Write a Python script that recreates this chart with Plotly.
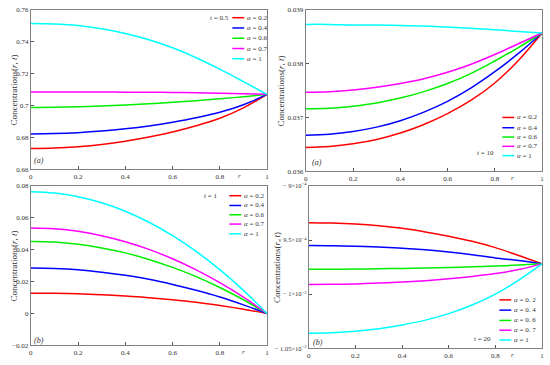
import plotly.graph_objects as go

# ---------------- data ----------------
r = [0.0, 0.1, 0.2, 0.3, 0.4, 0.5, 0.6, 0.7, 0.8, 0.9, 1.0]
alpha_labels = ["α = 0.2", "α = 0.4", "α = 0.6", "α = 0.7", "α = 1"]
alpha_labels_d = ["α = 0. 2", "α = 0. 4", "α = 0. 6", "α = 0. 7", "α = 1"]
time_labels = ["0.5", "10", "1", "20"]
panel_tags = ["(a)", "(a)", "(b)", "(b)"]

# t = 0.5
c05_a02 = [0.6730, 0.6733, 0.6742, 0.6756, 0.6776, 0.6802, 0.6834, 0.6873, 0.6920, 0.6985, 0.7070]
c05_a04 = [0.6822, 0.6824, 0.6830, 0.6840, 0.6854, 0.6872, 0.6895, 0.6923, 0.6958, 0.7005, 0.7070]
c05_a06 = [0.6988, 0.6989, 0.6992, 0.6997, 0.7003, 0.7011, 0.7020, 0.7030, 0.7042, 0.7055, 0.7070]
c05_a07 = [0.7085, 0.7085, 0.7085, 0.7085, 0.7084, 0.7083, 0.7082, 0.7080, 0.7077, 0.7074, 0.7070]
c05_a10 = [0.7515, 0.7512, 0.7502, 0.7482, 0.7452, 0.7412, 0.7362, 0.7300, 0.7228, 0.7150, 0.7070]

# t = 10
c10_a02 = [0.03644, 0.03646, 0.03651, 0.03659, 0.03671, 0.03687, 0.03707, 0.03732, 0.03764, 0.03806, 0.03857]
c10_a04 = [0.03667, 0.03669, 0.03674, 0.03682, 0.03694, 0.03710, 0.03730, 0.03755, 0.03785, 0.03819, 0.03857]
c10_a06 = [0.03716, 0.03717, 0.03721, 0.03727, 0.03736, 0.03748, 0.03763, 0.03782, 0.03805, 0.03830, 0.03857]
c10_a07 = [0.03747, 0.03748, 0.03751, 0.03756, 0.03763, 0.03772, 0.03784, 0.03799, 0.03817, 0.03837, 0.03857]
c10_a10 = [0.03873, 0.03873, 0.03872, 0.03872, 0.03871, 0.03870, 0.03868, 0.03866, 0.03863, 0.03860, 0.03857]

# t = 1
c1_a02 = [0.0127, 0.0126, 0.0123, 0.0117, 0.0109, 0.0099, 0.0086, 0.0070, 0.0050, 0.0027, 0.0]
c1_a04 = [0.0285, 0.0282, 0.0274, 0.0259, 0.0239, 0.0214, 0.0182, 0.0145, 0.0103, 0.0054, 0.0]
c1_a06 = [0.0452, 0.0448, 0.0434, 0.0411, 0.0380, 0.0339, 0.0289, 0.0231, 0.0163, 0.0086, 0.0]
c1_a07 = [0.0536, 0.0531, 0.0515, 0.0488, 0.0450, 0.0402, 0.0343, 0.0273, 0.0193, 0.0102, 0.0]
c1_a10 = [0.0763, 0.0755, 0.0732, 0.0694, 0.0641, 0.0572, 0.0488, 0.0389, 0.0275, 0.0145, 0.0]

# t = 20
c20_a02 = [-9.340e-4, -9.343e-4, -9.352e-4, -9.368e-4, -9.392e-4, -9.425e-4, -9.465e-4, -9.512e-4, -9.570e-4, -9.643e-4, -9.720e-4]
c20_a04 = [-9.550e-4, -9.552e-4, -9.557e-4, -9.565e-4, -9.575e-4, -9.590e-4, -9.610e-4, -9.635e-4, -9.665e-4, -9.690e-4, -9.720e-4]
c20_a06 = [-9.770e-4, -9.770e-4, -9.768e-4, -9.765e-4, -9.762e-4, -9.758e-4, -9.753e-4, -9.747e-4, -9.740e-4, -9.731e-4, -9.720e-4]
c20_a07 = [-9.910e-4, -9.909e-4, -9.905e-4, -9.898e-4, -9.888e-4, -9.875e-4, -9.858e-4, -9.836e-4, -9.809e-4, -9.772e-4, -9.720e-4]
c20_a10 = [-10.360e-4, -10.356e-4, -10.343e-4, -10.320e-4, -10.285e-4, -10.240e-4, -10.180e-4, -10.100e-4, -10.000e-4, -9.870e-4, -9.720e-4]

x_tickvals = [0, 0.2, 0.4, 0.6, 0.8, 1]
x_ticktext = ["0", "0.2", "0.4", "0.6", "0.8", "1"]
y1_ticks = [0.66, 0.68, 0.70, 0.72, 0.74, 0.76]
y2_ticks = [0.036, 0.037, 0.038, 0.039]
y3_ticks = [-0.02, 0.0, 0.02, 0.04, 0.06, 0.08]
y4_ticks = [-1.05e-3, -1.0e-3, -9.5e-4, -9.0e-4]
y4_ticktext = ["− 1.05×10<sup>−3</sup>", "− 1×10<sup>−3</sup>", "− 9.5×10<sup>−4</sup>", "− 9×10<sup>−4</sup>"]

colors = ["#ff0000", "#0000ff", "#00ee00", "#ff00ff", "#00ffff"]

# ---------------- layout helpers ----------------
W, H = 550, 365
def px(x):
    return x / W
def py(y):
    return 1 - y / H

FONT = "Liberation Serif, Times New Roman, serif"
TXT = "#333333"

panels = [
    dict(series=[c05_a02, c05_a04, c05_a06, c05_a07, c05_a10], labels=alpha_labels,
         box=(29, 267, 6, 169), yrange=[0.66, 0.76], yticks=y1_ticks, yticktext=None,
         leg_x=232, leg_rows=[14, 24.5, 35, 45.5, 56], t_pos=(219, 14),
         title_x=12, rlab=239, tag_pos=(31, 160)),
    dict(series=[c10_a02, c10_a04, c10_a06, c10_a07, c10_a10], labels=alpha_labels,
         box=(306, 544, 6, 171), yrange=[0.036, 0.039], yticks=y2_ticks, yticktext=None,
         leg_x=504, leg_rows=[116, 126.5, 136, 145.5, 155], t_pos=(487, 152),
         title_x=281, rlab=514, tag_pos=(311, 162)),
    dict(series=[c1_a02, c1_a04, c1_a06, c1_a07, c1_a10], labels=alpha_labels,
         box=(29, 267, 186, 349), yrange=[-0.02, 0.08], yticks=y3_ticks, yticktext=None,
         leg_x=229, leg_rows=[196, 206, 215.5, 225, 235], t_pos=(210, 196),
         title_x=12, rlab=243, tag_pos=(31, 344)),
    dict(series=[c20_a02, c20_a04, c20_a06, c20_a07, c20_a10], labels=alpha_labels_d,
         box=(309, 544, 186, 352), yrange=[-1.05e-3, -9.0e-4], yticks=y4_ticks, yticktext=y4_ticktext,
         leg_x=501, leg_rows=[302.5, 313, 323.5, 333.5, 343.5], t_pos=(484, 342),
         title_x=277, rlab=514, tag_pos=(312, 346)),
]

fig = go.Figure()
layout = dict(width=W, height=H, margin=dict(l=0, r=0, t=0, b=0),
              paper_bgcolor="white", plot_bgcolor="white", showlegend=False,
              font=dict(family=FONT, size=7, color=TXT))
shapes = []
annotations = []

def note(text, x, y, size=7, xanchor="center", angle=0):
    annotations.append(dict(text=text, xref="paper", yref="paper", x=px(x), y=py(y),
                            xanchor=xanchor, yanchor="middle", showarrow=False,
                            textangle=angle, borderpad=0,
                            font=dict(family=FONT, size=size, color=TXT)))

for i, p in enumerate(panels):
    k = "" if i == 0 else str(i + 1)
    xa, ya = "x" + k, "y" + k
    x0, x1, y0, y1 = p["box"]
    for s, lab, col in zip(p["series"], p["labels"], colors):
        fig.add_trace(go.Scatter(x=r, y=s, mode="lines", name=lab, xaxis=xa, yaxis=ya,
                                 line=dict(color=col, width=1.5, shape="spline")))
    axis_common = dict(showgrid=False, zeroline=False, showline=True, linecolor="#808080",
                       linewidth=1, mirror=True, ticks="inside", ticklen=3, tickcolor="#555555",
                       tickfont=dict(family=FONT, size=7, color=TXT))
    layout["xaxis" + k] = dict(domain=[px(x0), px(x1)], range=[0, 1], anchor=ya,
                               tickvals=x_tickvals, ticktext=x_ticktext, **axis_common)
    yax = dict(domain=[py(y1), py(y0)], range=p["yrange"], anchor=xa,
               tickvals=p["yticks"], **axis_common)
    if p["yticktext"] is not None:
        yax["ticktext"] = p["yticktext"]
        yax["tickfont"] = dict(family=FONT, size=6.5, color=TXT)
    layout["yaxis" + k] = yax

    note("Concentrations(<i>r</i>, <i>t</i>)", p["title_x"], (y0 + y1) / 2, size=9, angle=-90)
    note("<i>r</i>", p["rlab"], y1 + 7, size=7)
    note("<i>" + panel_tags[i] + "</i>", p["tag_pos"][0], p["tag_pos"][1], size=8, xanchor="left")
    note("<i>t</i> = " + time_labels[i], p["t_pos"][0], p["t_pos"][1], size=7)
    for lab, col, yy in zip(p["labels"], colors, p["leg_rows"]):
        shapes.append(dict(type="line", xref="paper", yref="paper",
                           x0=px(p["leg_x"]), x1=px(p["leg_x"] + 12), y0=py(yy), y1=py(yy),
                           line=dict(color=col, width=1.5)))
        note(lab.replace("α", "<i>α</i>"), p["leg_x"] + 14, yy, size=7, xanchor="left")

layout["shapes"] = shapes
layout["annotations"] = annotations
fig.update_layout(**layout)
fig.write_html("out.html", config={"displayModeBar": False, "staticPlot": True},
               post_script="document.body.style.margin='0px';document.body.style.padding='0px';")
